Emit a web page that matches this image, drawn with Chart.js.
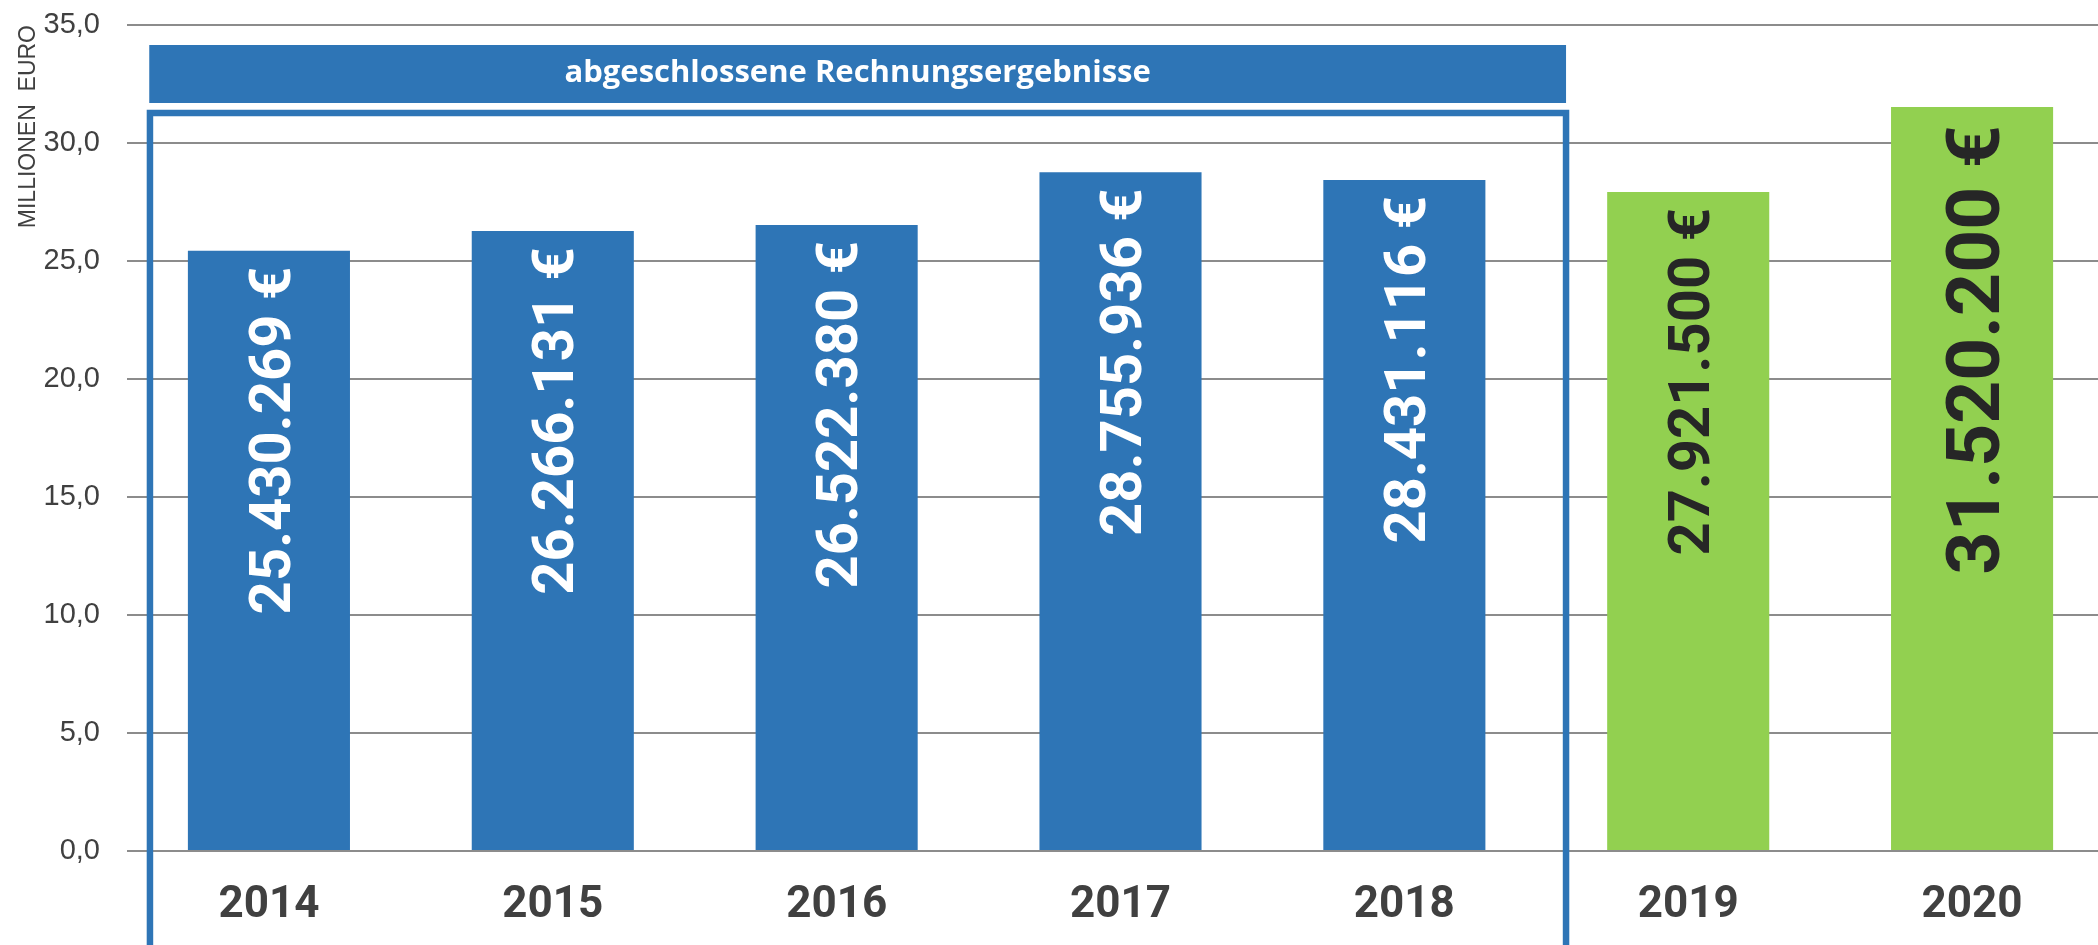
<!DOCTYPE html>
<html><head><meta charset="utf-8">
<script src="https://cdn.jsdelivr.net/npm/chart.js@4/dist/chart.umd.min.js"></script>
<style>html,body{margin:0;padding:0;overflow:hidden;background:#fff}canvas{display:block}</style>
</head><body>
<canvas id="c" width="2114" height="945"></canvas>
<script>
// ---- data ----
const years = ['2014','2015','2016','2017','2018','2019','2020'];
const amountsEuro = [25430269, 26266131, 26522380, 28755936, 28431116, 27921500, 31520200];
const status = ['ist','ist','ist','ist','ist','plan','plan'];
const yTickLabels = ['0,0','5,0','10,0','15,0','20,0','25,0','30,0','35,0'];
const axisTitle = 'MILLIONEN  EURO';
const groupTitle = 'abgeschlossene Rechnungsergebnisse';
const groupFirst = '2014';
const groupLast = '2018';

// ---- styling ----
const BLUE = '#2E75B6', GREEN = '#92D050', TEXT = '#404040';
const valuesMio = amountsEuro.map(v => v / 1e6);
function fmtDE(n){ return String(n).replace(/\B(?=(\d{3})+(?!\d))/g, '.') + ' €'; }

const groupBox = {
  id: 'groupBox',
  afterDatasetsDraw(chart){
    const ctx = chart.ctx, xs = chart.scales.x;
    const cat = xs.getPixelForValue(1) - xs.getPixelForValue(0);
    const left = xs.getPixelForValue(years.indexOf(groupFirst)) - 0.4216 * cat;
    const right = xs.getPixelForValue(years.indexOf(groupLast)) + 0.5696 * cat;
    const top = chart.chartArea.top;
    ctx.save();
    // header band
    ctx.fillStyle = BLUE;
    ctx.fillRect(left, top + 20, right - left, 58);
    ctx.fillStyle = '#FFFFFF';
    ctx.font = 'bold 31px "Open Sans", "Liberation Sans", sans-serif';
    ctx.textAlign = 'center';
    ctx.textBaseline = 'middle';
    ctx.fillText(groupTitle, (left + right) / 2, top + 48);
    // outline
    ctx.strokeStyle = BLUE;
    ctx.lineWidth = 6.5;
    ctx.beginPath();
    ctx.moveTo(left + 0.7, chart.height + 20);
    ctx.lineTo(left + 0.7, top + 88);
    ctx.lineTo(right, top + 88);
    ctx.lineTo(right, chart.height + 20);
    ctx.stroke();
    ctx.restore();
  }
};

const valueLabels = {
  id: 'valueLabels',
  afterDatasetsDraw(chart){
    const ctx = chart.ctx;
    const meta = chart.getDatasetMeta(0);
    meta.data.forEach((bar, i) => {
      const big = i === amountsEuro.length - 1;
      const size = big ? 75 : 58;
      ctx.save();
      ctx.font = 'bold ' + size + 'px Roboto, "Liberation Sans", sans-serif';
      ctx.fillStyle = status[i] === 'ist' ? '#FFFFFF' : '#262626';
      ctx.translate(bar.x, bar.y + (big ? 18 : 16));
      ctx.rotate(-Math.PI / 2);
      ctx.textAlign = 'right';
      ctx.textBaseline = 'alphabetic';
      ctx.fillText(fmtDE(amountsEuro[i]), 0, size * 0.711 / 2);
      ctx.restore();
    });
  }
};

new Chart(document.getElementById('c'), {
  type: 'bar',
  data: {
    labels: years,
    datasets: [{
      data: valuesMio,
      backgroundColor: status.map(s => s === 'ist' ? BLUE : GREEN),
      barPercentage: 0.571,
      categoryPercentage: 1
    }]
  },
  options: {
    responsive: false,
    animation: false,
    devicePixelRatio: 1,
    layout: { padding: { top: 25, left: 0, right: 0, bottom: 0 } },
    plugins: { legend: { display: false }, tooltip: { enabled: false } },
    scales: {
      x: {
        offset: true,
        grid: { display: false, drawTicks: false },
        border: { display: false },
        ticks: {
          color: TEXT,
          padding: 29,
          font: { family: 'Roboto, sans-serif', weight: 'bold', size: 44 }
        },
        afterFit(s){ s.height = 94; }
      },
      y: {
        min: 0, max: 35,
        ticks: {
          stepSize: 5,
          color: TEXT,
          padding: 0,
          font: { family: '"Liberation Sans", Arial, sans-serif', size: 29 },
          callback: (v, i) => yTickLabels[i]
        },
        grid: { color: '#8C8C8C', lineWidth: 2, drawTicks: true, tickLength: 27, tickColor: 'rgba(0,0,0,0)' },
        border: { display: false },
        title: {
          display: true, text: axisTitle, align: 'end', color: TEXT,
          font: { family: '"Liberation Sans", Arial, sans-serif', size: 23 },
          padding: { top: 15, bottom: 0 }
        },
        afterFit(s){ s.width = 127; }
      }
    }
  },
  plugins: [groupBox, valueLabels]
});
</script>
</body></html>
